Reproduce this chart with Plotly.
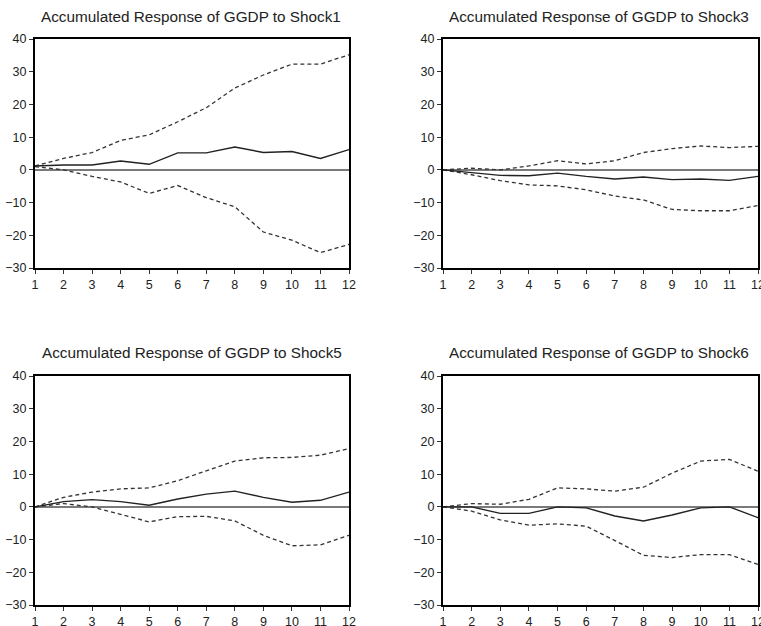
import plotly.graph_objects as go

periods = list(range(1, 13))

titles = [
    "Accumulated Response of GGDP to Shock1",
    "Accumulated Response of GGDP to Shock3",
    "Accumulated Response of GGDP to Shock5",
    "Accumulated Response of GGDP to Shock6",
]

shock1_resp = [1.2, 1.5, 1.5, 2.7, 1.7, 5.2, 5.2, 7.0, 5.3, 5.6, 3.5, 6.2]
shock1_upper = [1.2, 3.5, 5.3, 9.0, 10.7, 14.7, 19.0, 25.0, 29.0, 32.3, 32.3, 35.2]
shock1_lower = [1.0, 0.0, -2.0, -3.7, -7.2, -4.8, -8.5, -11.3, -19.0, -21.5, -25.3, -22.8]

shock3_resp = [0.0, -0.8, -1.7, -1.8, -1.0, -2.0, -2.8, -2.2, -3.0, -2.8, -3.2, -2.0]
shock3_upper = [0.0, 0.5, 0.0, 1.2, 2.8, 1.8, 2.8, 5.3, 6.5, 7.3, 6.8, 7.2]
shock3_lower = [0.0, -1.5, -3.3, -4.6, -4.9, -6.1, -8.0, -9.2, -12.1, -12.5, -12.5, -10.9]

shock5_resp = [0.0, 1.6, 2.2, 1.6, 0.5, 2.4, 3.9, 4.8, 2.9, 1.4, 2.0, 4.5]
shock5_upper = [0.0, 2.9, 4.5, 5.5, 5.8, 8.0, 11.0, 14.0, 15.0, 15.1, 15.8, 17.8]
shock5_lower = [0.0, 1.0, 0.0, -2.3, -4.6, -3.0, -2.9, -4.3, -8.7, -11.9, -11.6, -8.7]

shock6_resp = [0.0, 0.0, -2.0, -2.0, 0.0, -0.3, -2.8, -4.3, -2.5, -0.3, 0.0, -3.3]
shock6_upper = [0.0, 1.0, 0.8, 2.3, 5.8, 5.5, 4.8, 6.0, 10.3, 14.0, 14.5, 10.9]
shock6_lower = [0.0, -1.3, -4.0, -5.6, -5.2, -5.9, -10.3, -14.8, -15.5, -14.6, -14.6, -17.6]

y_ticks = [-30, -20, -10, 0, 10, 20, 30, 40]

panels = [
    (shock1_resp, shock1_upper, shock1_lower),
    (shock3_resp, shock3_upper, shock3_lower),
    (shock5_resp, shock5_upper, shock5_lower),
    (shock6_resp, shock6_upper, shock6_lower),
]

W, H = 761, 626
# pixel boxes (left, right, top, bottom)
boxes = [
    (35, 349, 39, 268),
    (443, 758, 39, 268),
    (35, 349, 376, 605),
    (443, 758, 376, 605),
]
title_pos = [(191, 17), (599, 17), (192, 352), (599, 352)]

fig = go.Figure()
layout = dict(
    width=W, height=H,
    margin=dict(l=0, r=0, t=0, b=0, autoexpand=False),
    paper_bgcolor="white", plot_bgcolor="white",
    showlegend=False,
    font=dict(family="Liberation Sans, Arial, sans-serif", color="#222"),
    annotations=[],
)

for i, (resp, up, lo) in enumerate(panels):
    n = "" if i == 0 else str(i + 1)
    xa, ya = "x" + n, "y" + n
    l, r, t, b = boxes[i]
    layout["xaxis" + n] = dict(
        domain=[l / W, r / W], anchor=ya, range=[1, 12], automargin=False,
        tickmode="array", tickvals=periods, ticktext=[str(p) for p in periods],
        ticks="outside", ticklen=4, tickwidth=1, tickcolor="#333",
        ticklabeloverflow="allow",
        showline=True, linecolor="black", linewidth=2, mirror=True,
        showgrid=False, zeroline=False,
        tickfont=dict(size=12.5, color="#222"),
    )
    layout["yaxis" + n] = dict(
        domain=[1 - b / H, 1 - t / H], anchor=xa, range=[-30, 40], automargin=False,
        tickmode="array", tickvals=y_ticks,
        ticks="outside", ticklen=4, tickwidth=1, tickcolor="#333",
        ticklabeloverflow="allow",
        showline=True, linecolor="black", linewidth=2, mirror=True,
        showgrid=False, zeroline=True, zerolinecolor="#7a7a7a", zerolinewidth=1.5,
        tickfont=dict(size=12.5, color="#222"),
    )
    fig.add_trace(go.Scatter(x=periods, y=up, mode="lines", xaxis=xa, yaxis=ya,
                             line=dict(color="#333", width=1.3, dash="4px,3px")))
    fig.add_trace(go.Scatter(x=periods, y=lo, mode="lines", xaxis=xa, yaxis=ya,
                             line=dict(color="#333", width=1.3, dash="4px,3px")))
    fig.add_trace(go.Scatter(x=periods, y=resp, mode="lines", xaxis=xa, yaxis=ya,
                             line=dict(color="#222", width=1.4)))
    tx, ty = title_pos[i]
    layout["annotations"].append(dict(
        text=titles[i], x=tx / W, y=1 - ty / H, xref="paper", yref="paper",
        xanchor="center", yanchor="middle", showarrow=False,
        font=dict(size=15.3, color="#222"),
    ))

fig.update_layout(**layout)
fig.write_html(
    "out.html",
    config={"displayModeBar": False},
    post_script="document.body.style.margin='0px';document.body.style.overflow='hidden';",
)
